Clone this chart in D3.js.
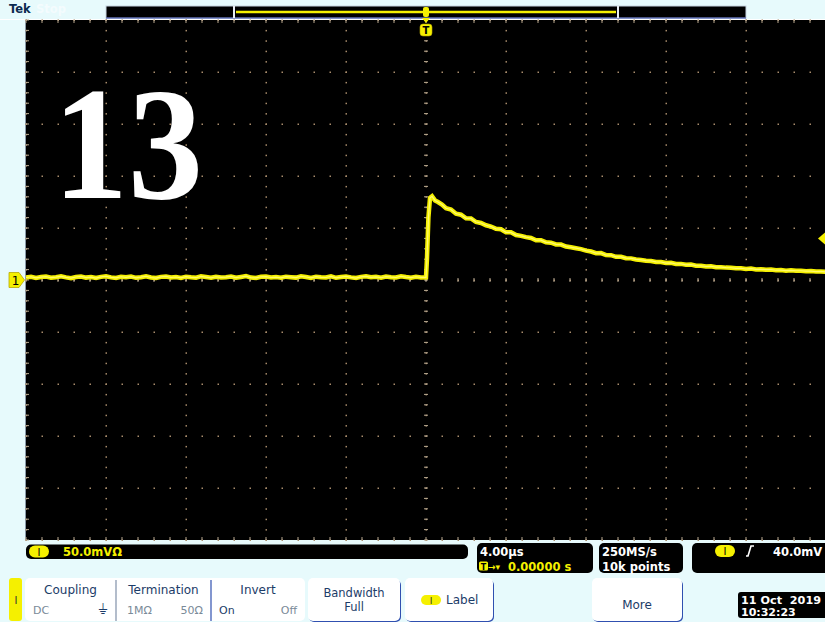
<!DOCTYPE html>
<html>
<head>
<meta charset="utf-8">
<script src="https://cdn.jsdelivr.net/npm/d3@7/dist/d3.min.js"></script>
<style>
  html, body { margin: 0; padding: 0; background: #e7fafc; }
  svg { display: block; }
</style>
</head>
<body>
<svg id="scope" width="825" height="622"></svg>
<script>
// Channel 1 acquisition, pre-trigger: time (µs) and amplitude (mV)
const preTimeUs = [
  -20, -19.75, -19.5, -19.25, -19, -18.75, -18.5, -18.25, -18, -17.75,
  -17.5, -17.25, -17, -16.75, -16.5, -16.25, -16, -15.75, -15.5, -15.25,
  -15, -14.75, -14.5, -14.25, -14, -13.75, -13.5, -13.25, -13, -12.75,
  -12.5, -12.25, -12, -11.75, -11.5, -11.25, -11, -10.75, -10.5, -10.25,
  -10, -9.75, -9.5, -9.25, -9, -8.75, -8.5, -8.25, -8, -7.75,
  -7.5, -7.25, -7, -6.75, -6.5, -6.25, -6, -5.75, -5.5, -5.25,
  -5, -4.75, -4.5, -4.25, -4, -3.75, -3.5, -3.25, -3, -2.75,
  -2.5, -2.25, -2, -1.75, -1.5, -1.25, -1, -0.75, -0.5, -0.25, 0
];
const preMv = [
  2.4, 3.1, 2.0, 2.8, 3.3, 2.2, 2.7, 3.5, 2.5, 1.8,
  2.9, 3.4, 2.3, 2.8, 1.9, 3.0, 3.6, 2.5, 2.0, 3.1,
  2.6, 3.3, 2.1, 2.7, 3.6, 2.4, 1.9, 3.0, 3.4, 2.4,
  2.9, 2.0, 3.2, 2.6, 2.2, 3.5, 2.8, 2.1, 3.1, 2.5,
  2.7, 3.4, 2.2, 2.9, 3.7, 2.3, 2.0, 3.1, 3.3, 2.4,
  2.8, 2.1, 3.2, 2.7, 2.3, 3.6, 2.9, 2.0, 3.2, 2.6,
  2.4, 3.5, 2.1, 2.8, 3.4, 2.5, 1.9, 3.0, 3.5, 2.6,
  3.0, 2.2, 3.3, 2.7, 2.4, 3.6, 2.8, 2.2, 3.1, 2.5, 2.6
];
// Channel 1 acquisition, post-trigger: step and decay
const postTimeUs = [
  0.05, 0.12, 0.2, 0.3, 0.45, 0.6, 0.8, 1.0,
  1.25, 1.5, 1.75, 2, 2.25, 2.5, 2.75, 3, 3.25, 3.5,
  3.75, 4, 4.25, 4.5, 4.75, 5, 5.25, 5.5, 5.75, 6,
  6.25, 6.5, 6.75, 7, 7.25, 7.5, 7.75, 8, 8.25, 8.5,
  8.75, 9, 9.25, 9.5, 9.75, 10, 10.25, 10.5, 10.75, 11,
  11.25, 11.5, 11.75, 12, 12.25, 12.5, 12.75, 13, 13.25, 13.5,
  13.75, 14, 14.25, 14.5, 14.75, 15, 15.25, 15.5, 15.75, 16,
  16.25, 16.5, 16.75, 17, 17.25, 17.5, 17.75, 18, 18.25, 18.5,
  18.75, 19, 19.25, 19.5, 19.75, 20
];
const postMv = [
  21, 60, 79, 80.5, 76.5, 75, 72.5, 69,
  67.8, 63.8, 62.8, 59.3, 59.2, 55.8, 54.8, 52.6, 51.4, 49.2,
  48.8, 45.8, 45.8, 43.2, 42.4, 41.2, 40.4, 38.2, 38.3, 36.2,
  35.9, 34.2, 34.1, 32.2, 31.4, 30.6, 29.7, 28.2, 27.4, 25.8,
  25.9, 24.0, 23.9, 22.3, 22.3, 21.0, 20.8, 19.8, 19.3, 18.6,
  18.3, 17.4, 17.3, 16.3, 16.5, 15.4, 15.5, 14.6, 14.8, 13.8,
  13.6, 13.0, 13.2, 12.3, 12.3, 11.9, 11.8, 11.2, 11.3, 10.6,
  11.0, 10.2, 10.3, 9.9, 10.0, 9.4, 9.5, 9.0, 9.3, 8.9,
  8.9, 8.5, 8.6, 8.1, 8.2, 7.8
];

// Front-panel settings
const timeTicks = [-20, -16, -12, -8, -4, 0, 4, 8, 12, 16, 20];      // 4.00 µs/div
const voltTicks = [-250, -200, -150, -100, -50, 0, 50, 100, 150, 200, 250]; // 50.0 mV/div
const triggerLevel = 40;        // mV
const recordWindow = [0.2, 0.8]; // visible fraction of record
const statusChannel = "50.0mVΩ";
const statusTime = ["4.00µs", "0.00000 s"];
const statusAcq = ["250MS/s", "10k points"];
const statusTrig = "40.0mV";
const stamp = ["11 Oct  2019", "10:32:23"];
const menuItems = [
  { title: "Coupling", opts: ["DC", "⏚"] },
  { title: "Termination", opts: ["1MΩ", "50Ω"] },
  { title: "Invert", opts: ["On", "Off"] }
];

const svg = d3.select("#scope");
const yellow = "#f5f000";
const dotColor = "#a88c6c";

const L = 26, R = 826, T = 20, B = 540;
const x = d3.scaleLinear().domain([-20, 20]).range([L, R]);
const y = d3.scaleLinear().domain([-250, 250]).range([B, T]);

// Screen
svg.append("rect").attr("x", L).attr("y", T).attr("width", R - L).attr("height", B - T).attr("fill", "#000");
svg.append("line").attr("x1", L - 0.5).attr("x2", L - 0.5).attr("y1", T).attr("y2", B).attr("stroke", "#8a9aa8").attr("stroke-width", 1);
svg.append("line").attr("x1", 0).attr("x2", 825).attr("y1", T - 0.5).attr("y2", T - 0.5).attr("stroke", "#fff").attr("stroke-width", 1);

const grid = svg.append("g");
const xStep = (x(4) - x(0)) / 5, yStep = (y(0) - y(50)) / 5;

// dotted graticule
timeTicks.forEach(t => {
  const gx = x(t);
  for (let k = 0; k <= 50; k++) {
    const gy = T + k * yStep;
    grid.append("rect").attr("x", gx - 0.5).attr("y", gy - 0.5).attr("width", 1.5).attr("height", 1.5).attr("fill", dotColor);
  }
});
voltTicks.forEach(v => {
  const gy = y(v);
  for (let k = 0; k <= 50; k++) {
    const gx = L + k * xStep;
    grid.append("rect").attr("x", gx - 0.5).attr("y", gy - 0.5).attr("width", 1.5).attr("height", 1.5).attr("fill", dotColor);
  }
});
// centre crosshair and edge ticks
for (let k = 0; k <= 50; k++) {
  const gx = L + k * xStep;
  [[y(0) - 2, y(0) + 2], [T, T + 3], [B - 3, B]].forEach(([a, b]) =>
    grid.append("line").attr("x1", gx).attr("x2", gx).attr("y1", a).attr("y2", b).attr("stroke", "#b8a890").attr("stroke-width", 1));
  const gy = T + k * yStep;
  [[x(0) - 2, x(0) + 2], [L, L + 3]].forEach(([a, b]) =>
    grid.append("line").attr("x1", a).attr("x2", b).attr("y1", gy).attr("y2", gy).attr("stroke", "#b8a890").attr("stroke-width", 1));
}

// Big overlay number
svg.append("text").attr("x", 53).attr("y", 198)
  .attr("font-family", "'Liberation Serif', 'Times New Roman', serif").attr("font-weight", "bold")
  .attr("font-size", 160).attr("textLength", 150).attr("lengthAdjust", "spacingAndGlyphs")
  .attr("fill", "#fff").text("13");

// Waveform
const pts = preTimeUs.map((t, i) => [x(t), y(preMv[i])])
  .concat(postTimeUs.map((t, i) => [x(t), y(postMv[i])]));
const line = d3.line();
svg.append("path").attr("d", line(pts)).attr("fill", "none").attr("stroke", yellow)
  .attr("stroke-width", 4.5).attr("stroke-linejoin", "miter");
svg.append("path").attr("d", line(pts)).attr("fill", "none").attr("stroke", "#fffb70")
  .attr("stroke-width", 1.2).attr("stroke-linejoin", "miter");

// Channel 1 ground marker
const gy0 = y(0);
svg.append("path").attr("d", `M9,${gy0 - 7.5} L19,${gy0 - 7.5} L24.5,${gy0} L19,${gy0 + 7.5} L9,${gy0 + 7.5} Z`)
  .attr("fill", yellow).attr("stroke", "#b8a800").attr("stroke-width", 0.8);
svg.append("text").attr("x", 15.5).attr("y", gy0 + 4.5).attr("text-anchor", "middle")
  .attr("font-family", "DejaVu Sans").attr("font-size", 12).attr("fill", "#000").text("1");

// Trigger level marker
const ty = y(triggerLevel);
svg.append("path").attr("d", `M818,${ty} L825,${ty - 6} L825,${ty + 6} Z`).attr("fill", yellow);

// Record bar
svg.append("rect").attr("x", 106).attr("y", 6).attr("width", 640).attr("height", 12).attr("fill", "#000")
  .attr("stroke", "#c8d4e0").attr("stroke-width", 1);
svg.append("line").attr("x1", 106).attr("x2", 746).attr("y1", 18).attr("y2", 18).attr("stroke", "#3040a0").attr("stroke-width", 1);
const wx0 = 106 + 640 * recordWindow[0], wx1 = 106 + 640 * recordWindow[1];
[wx0, wx1].forEach(wx => svg.append("line").attr("x1", wx).attr("x2", wx).attr("y1", 6).attr("y2", 18).attr("stroke", "#e8eef4").attr("stroke-width", 2));
svg.append("line").attr("x1", wx0 + 2).attr("x2", wx1 - 2).attr("y1", 12).attr("y2", 12).attr("stroke", yellow).attr("stroke-width", 2.5);

// Trigger position markers
const tx = x(0);
svg.append("rect").attr("x", tx - 3).attr("y", 7).attr("width", 6).attr("height", 10).attr("rx", 2).attr("fill", yellow);
svg.append("path").attr("d", `M${tx - 4},18 L${tx + 4},18 L${tx},23 Z`).attr("fill", yellow);
svg.append("rect").attr("x", tx - 6).attr("y", 24).attr("width", 12).attr("height", 12).attr("rx", 3).attr("fill", yellow).attr("stroke", "#b8a800").attr("stroke-width", 0.6);
svg.append("text").attr("x", tx).attr("y", 34).attr("text-anchor", "middle")
  .attr("font-family", "DejaVu Sans").attr("font-weight", "bold").attr("font-size", 10).attr("fill", "#000").text("T");

// Brand / run state
svg.append("text").attr("x", 9).attr("y", 13).attr("font-family", "DejaVu Sans").attr("font-weight", "bold")
  .attr("font-size", 11.5).attr("fill", "#0b2a50").text("Tek");
svg.append("text").attr("x", 36).attr("y", 13).attr("font-family", "DejaVu Sans").attr("font-weight", "bold")
  .attr("font-size", 11.5).attr("fill", "#f4fcfe").text("Stop");

// Status readouts
const boldFont = "DejaVu Sans";
function box(x0, y0, w, h) {
  svg.append("rect").attr("x", x0).attr("y", y0).attr("width", w).attr("height", h).attr("rx", 5).attr("fill", "#000");
}
function pill(cx, cy) {
  svg.append("rect").attr("x", cx - 10).attr("y", cy - 6).attr("width", 20).attr("height", 12).attr("rx", 6).attr("fill", yellow);
  svg.append("text").attr("x", cx).attr("y", cy + 4).attr("text-anchor", "middle").attr("font-family", boldFont)
    .attr("font-size", 10).attr("fill", "#000").text("I");
}
box(26, 544.5, 442, 14.5);
pill(39, 551.5);
svg.append("text").attr("x", 63).attr("y", 556).attr("font-family", boldFont).attr("font-weight", "bold")
  .attr("font-size", 11.5).attr("fill", yellow).text(statusChannel);

box(477, 543, 116, 30);
svg.append("text").attr("x", 480).attr("y", 556).attr("font-family", boldFont).attr("font-weight", "bold")
  .attr("font-size", 11.5).attr("fill", "#fff").text(statusTime[0]);
svg.append("rect").attr("x", 479).attr("y", 561.5).attr("width", 9).attr("height", 9).attr("rx", 1.5).attr("fill", yellow);
svg.append("text").attr("x", 483.5).attr("y", 569.5).attr("text-anchor", "middle").attr("font-family", boldFont).attr("font-weight", "bold")
  .attr("font-size", 8).attr("fill", "#000").text("T");
svg.append("text").attr("x", 488).attr("y", 570).attr("font-family", boldFont).attr("font-weight", "bold")
  .attr("font-size", 9).attr("fill", yellow).text("→▾");
svg.append("text").attr("x", 508).attr("y", 570.5).attr("font-family", boldFont).attr("font-weight", "bold")
  .attr("font-size", 11.5).attr("fill", yellow).text(statusTime[1]);

box(599, 543, 84, 30);
svg.append("text").attr("x", 602).attr("y", 556).attr("font-family", boldFont).attr("font-weight", "bold")
  .attr("font-size", 11.5).attr("fill", "#fff").text(statusAcq[0]);
svg.append("text").attr("x", 602).attr("y", 570.5).attr("font-family", boldFont).attr("font-weight", "bold")
  .attr("font-size", 11.5).attr("fill", "#fff").text(statusAcq[1]);

box(692, 543, 140, 30);
pill(725, 551);
svg.append("path").attr("d", "M746,556 L748,556 L751,546 L754,546").attr("fill", "none").attr("stroke", "#fff").attr("stroke-width", 1.6);
svg.append("text").attr("x", 773).attr("y", 556).attr("font-family", boldFont).attr("font-weight", "bold")
  .attr("font-size", 11.5).attr("fill", "#fff").text(statusTrig);

// Menu bar
svg.append("rect").attr("x", 9).attr("y", 578).attr("width", 13).attr("height", 43).attr("rx", 3).attr("fill", yellow);
svg.append("text").attr("x", 16).attr("y", 604).attr("text-anchor", "middle").attr("font-family", "DejaVu Sans")
  .attr("font-size", 10).attr("fill", "#333").text("I");

const menuFont = "DejaVu Sans";
function panel(x0, w, shadow) {
  if (shadow) svg.append("rect").attr("x", x0 + 1).attr("y", 580).attr("width", w).attr("height", 42).attr("rx", 5).attr("fill", "#3050b0");
  svg.append("rect").attr("x", x0).attr("y", 578).attr("width", w).attr("height", 43).attr("rx", 5).attr("fill", "#fff");
}
panel(25, 280, false);
[116, 211].forEach(sx => svg.append("line").attr("x1", sx).attr("x2", sx).attr("y1", 580).attr("y2", 621)
  .attr("stroke", sx === 116 ? "#8090a8" : "#3050b0").attr("stroke-width", 1.2));
const cols = [[25, 116], [116, 211], [211, 305]];
menuItems.forEach((m, i) => {
  const [a, b] = cols[i];
  svg.append("text").attr("x", (a + b) / 2).attr("y", 594).attr("text-anchor", "middle").attr("font-family", menuFont)
    .attr("font-size", 12).attr("fill", "#1c3c68").text(m.title);
  const col = i === 2 ? "#1c3c68" : "#7a8a98";
  svg.append("text").attr("x", a + 8 + (i === 1 ? 3 : 0)).attr("y", 614).attr("font-family", menuFont)
    .attr("font-size", 11).attr("fill", col).text(m.opts[0]);
  svg.append("text").attr("x", b - 8).attr("y", 614).attr("text-anchor", "end").attr("font-family", menuFont)
    .attr("font-size", i === 0 ? 14 : 11).attr("fill", i === 0 ? "#1c3c68" : "#7a8a98").text(m.opts[1]);
});
panel(308, 92, true);
svg.append("text").attr("x", 354).attr("y", 597).attr("text-anchor", "middle").attr("font-family", menuFont)
  .attr("font-size", 11.5).attr("fill", "#1c3c68").text("Bandwidth");
svg.append("text").attr("x", 354).attr("y", 611).attr("text-anchor", "middle").attr("font-family", menuFont)
  .attr("font-size", 11.5).attr("fill", "#1c3c68").text("Full");

panel(405, 88, true);
svg.append("rect").attr("x", 421).attr("y", 595).attr("width", 20).attr("height", 10).attr("rx", 5).attr("fill", yellow);
svg.append("text").attr("x", 431).attr("y", 604).attr("text-anchor", "middle").attr("font-family", menuFont)
  .attr("font-size", 9).attr("fill", "#333").text("I");
svg.append("text").attr("x", 446).attr("y", 604).attr("font-family", menuFont)
  .attr("font-size", 12).attr("fill", "#1c3c68").text("Label");

panel(592, 90, true);
svg.append("text").attr("x", 637).attr("y", 609).attr("text-anchor", "middle").attr("font-family", menuFont)
  .attr("font-size", 12).attr("fill", "#1c3c68").text("More");

svg.append("rect").attr("x", 738).attr("y", 592).attr("width", 90).attr("height", 26).attr("rx", 3).attr("fill", "#000");
svg.append("text").attr("x", 741).attr("y", 604).attr("font-family", boldFont).attr("font-weight", "bold")
  .attr("font-size", 11).attr("fill", "#fff").attr("xml:space", "preserve")
  .attr("textLength", 80).attr("lengthAdjust", "spacingAndGlyphs").text(stamp[0]);
svg.append("text").attr("x", 741).attr("y", 616).attr("font-family", boldFont).attr("font-weight", "bold")
  .attr("font-size", 11).attr("fill", "#fff").text(stamp[1]);
</script>
</body>
</html>
